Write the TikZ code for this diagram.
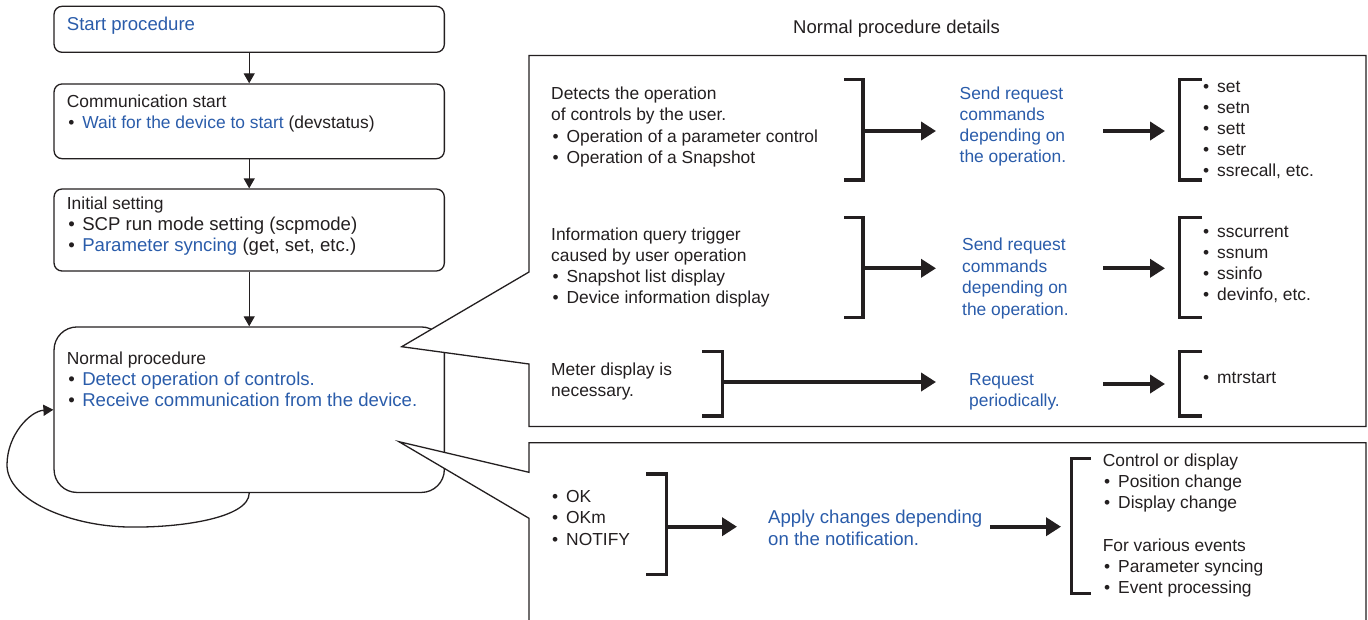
\documentclass[tikz,border=0pt]{standalone}
\usepackage{fontspec}
\setmainfont{Liberation Sans}
\usetikzlibrary{arrows.meta}
\definecolor{ink}{HTML}{231F20}
\definecolor{blu}{HTML}{2A5CAA}
\newcommand\fnA{\fontsize{17.4}{21.3}\selectfont}
\newcommand\fnB{\fontsize{18.6}{22}\selectfont}
\newcommand\myb[1]{\makebox[15.4pt][l]{\hspace{1.4pt}\textbullet}#1}
\newcommand\blk[2]{\vtop{\baselineskip=#1pt\relax #2}}
\tikzset{
  box/.style={draw=ink, line width=1.3pt, rounded corners=8pt, minimum width=390.3pt, inner sep=0pt},
  txt/.style={anchor=base west, inner sep=0pt, text=ink, font=\fnA},
  bt/.style={txt, text=blu},
  brk/.style={draw=ink, line width=3.3pt},
  fat/.style={draw=ink, line width=4pt, -{Triangle[length=15pt,width=18pt]}},
  flowarr/.style={draw=ink, line width=1.3pt, -{Triangle[length=10pt,width=11pt]}},
  panel/.style={draw=ink, fill=white, line width=1.3pt},
}
\begin{document}
\begin{tikzpicture}[x=1pt,y=-1pt]
\useasboundingbox (0,0) rectangle (1368,619);
\clip (0,0) rectangle (1368,619);

% ---- left flow ----
\node[box, minimum height=46pt] (b1) at (249.2,29.3) {};
\node[box, minimum height=74.7pt] (b2) at (249.2,121.3) {};
\node[box, minimum height=82pt] (b3) at (249.2,230) {};
\node[box, rounded corners=23pt, minimum height=165.5pt] (b4) at (249.2,409.7) {};

\draw[flowarr] (b1.south) -- (b2.north);
\draw[flowarr] (b2.south) -- (b3.north);
\draw[flowarr] (b3.south) -- (b4.north);
\draw[flowarr] (b4.south) .. controls (249.2,518) and (180,528) .. (128,527)
   .. controls (70,526) and (7,500) .. (7,465)
   .. controls (7,435) and (30,411) .. (b4.west);

\node[bt, font=\fnB] (t1) at (66.7,30.7) {Start procedure};
\node[txt] (t2) at (66.7,107.3) {\blk{21}{\hbox{Communication start}\hbox{\myb{\textcolor{blu}{Wait for the device to start} (devstatus)}}}};
\node[txt] (t3) at (66.7,209.3) {\blk{21.2}{\hbox{Initial setting}\hbox{\fnB\myb{SCP run mode setting (scpmode)}}\hbox{\fnB\myb{\textcolor{blu}{Parameter syncing} (get, set, etc.)}}}};
\node[txt] (t4) at (66.7,364) {\blk{21.3}{\hbox{Normal procedure}\hbox{\fnB\myb{\textcolor{blu}{Detect operation of controls.}}}\hbox{\fnB\myb{\textcolor{blu}{Receive communication from the device.}}}}};

% ---- callout panels ----
\draw[panel] (529,272) -- (529,55.5) -- (1366,55.5) -- (1366,426.5) -- (529,426.5) -- (529,364) -- (401.7,346.7) -- cycle;
\draw[panel] (529,650) -- (529,518.3) -- (399,441.7) -- (529,472.3) -- (529,442.7) -- (1366,442.7) -- (1366,650);

\node[txt, font=\fontsize{18.5}{22}\selectfont] (title) at (793,33.3) {Normal procedure details};

% ---- row 1 ----
\node[txt] (r1a) at (551,99) {\blk{21.5}{\hbox{Detects the operation}\hbox{of controls by the user.}\hbox{\myb{Operation of a parameter control}}\hbox{\myb{Operation of a Snapshot}}}};
\draw[brk] (844,79.8) -- (863,79.8) -- (863,180) -- (844,180);
\coordinate (a1s) at (863,131); \coordinate (a1e) at (936,131);
\draw[fat] (a1s) -- (a1e);
\node[bt] (r1b) at (959.5,99.3) {\blk{21.2}{\hbox{Send request}\hbox{commands}\hbox{depending on}\hbox{the operation.}}};
\coordinate (a2s) at (1103,131); \coordinate (a2e) at (1165,131);
\draw[fat] (a2s) -- (a2e);
\draw[brk] (1202,79.8) -- (1179.5,79.8) -- (1179.5,180) -- (1202,180);
\node[txt] (r1c) at (1201.6,92.8) {\blk{21}{\hbox{\myb{set}}\hbox{\myb{setn}}\hbox{\myb{sett}}\hbox{\myb{setr}}\hbox{\myb{ssrecall, etc.}}}};

% ---- row 2 ----
\node[txt] (r2a) at (551,240) {\blk{21.1}{\hbox{Information query trigger}\hbox{caused by user operation}\hbox{\myb{Snapshot list display}}\hbox{\myb{Device information display}}}};
\draw[brk] (844,217.3) -- (863,217.3) -- (863,317.7) -- (844,317.7);
\coordinate (a3s) at (863,268.3); \coordinate (a3e) at (936,268.3);
\draw[fat] (a3s) -- (a3e);
\node[bt] (r2b) at (962,250.5) {\blk{21.6}{\hbox{Send request}\hbox{commands}\hbox{depending on}\hbox{the operation.}}};
\coordinate (a4s) at (1103,268.3); \coordinate (a4e) at (1165,268.3);
\draw[fat] (a4s) -- (a4e);
\draw[brk] (1202,217.3) -- (1179.5,217.3) -- (1179.5,317.7) -- (1202,317.7);
\node[txt] (r2c) at (1201.6,237) {\blk{21.3}{\hbox{\myb{sscurrent}}\hbox{\myb{ssnum}}\hbox{\myb{ssinfo}}\hbox{\myb{devinfo, etc.}}}};

% ---- row 3 ----
\node[txt] (r3a) at (551,375) {\blk{21.5}{\hbox{Meter display is}\hbox{necessary.}}};
\draw[brk] (702,351.6) -- (722.3,351.6) -- (722.3,416) -- (702,416);
\coordinate (a5s) at (722.3,382); \coordinate (a5e) at (936,382);
\draw[fat] (a5s) -- (a5e);
\node[bt] (r3b) at (969,385) {\blk{21}{\hbox{Request}\hbox{periodically.}}};
\coordinate (a6s) at (1103,384); \coordinate (a6e) at (1165,384);
\draw[fat] (a6s) -- (a6e);
\draw[brk] (1202,351.6) -- (1179.5,351.6) -- (1179.5,416) -- (1202,416);
\node[txt] (r3c) at (1201.6,383.5) {\myb{mtrstart}};

% ---- panel 2 ----
\node[txt] (p2a) at (550.6,502.5) {\blk{21.3}{\hbox{\myb{OK}}\hbox{\myb{OKm}}\hbox{\myb{NOTIFY}}}};
\draw[brk] (646,474) -- (666.3,474) -- (666.3,574.5) -- (646,574.5);
\coordinate (a7s) at (666.3,526.7); \coordinate (a7e) at (737,526.7);
\draw[fat] (a7s) -- (a7e);
\node[bt, font=\fnB] (p2b) at (768,523) {\blk{22}{\hbox{Apply changes depending}\hbox{on the notification.}}};
\coordinate (a8s) at (990,526.7); \coordinate (a8e) at (1061,526.7);
\draw[fat] (a8s) -- (a8e);
\draw[brk] (1090.6,458.3) -- (1071.5,458.3) -- (1071.5,593.4) -- (1090.6,593.4);
\node[txt] (p2c) at (1102.6,466) {\blk{21.3}{\hbox{Control or display}\hbox{\myb{Position change}}\hbox{\myb{Display change}}\hbox{}\hbox{For various events}\hbox{\myb{Parameter syncing}}\hbox{\myb{Event processing}}}};
\end{tikzpicture}
\end{document}
